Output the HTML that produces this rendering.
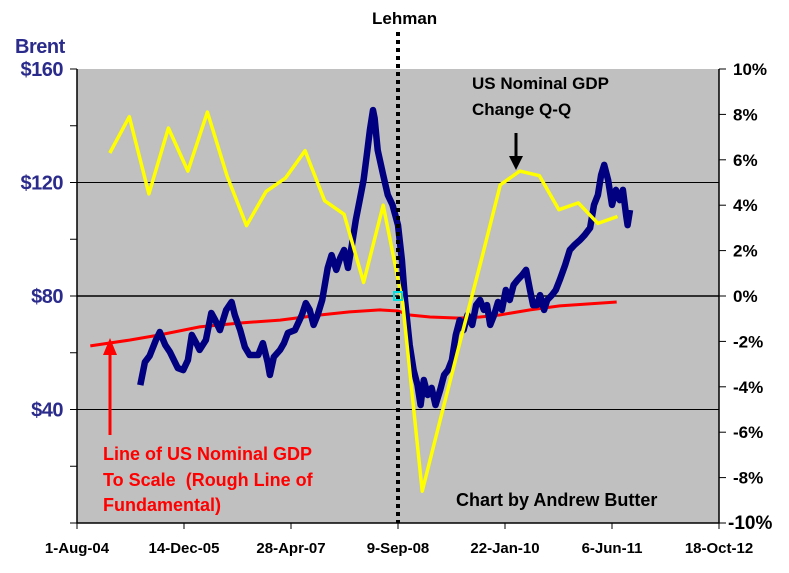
<!DOCTYPE html>
<html><head><meta charset="utf-8"><style>
body{margin:0;background:#fff;width:789px;height:573px;overflow:hidden}
svg{display:block;font-family:"Liberation Sans",Arial,sans-serif;font-weight:bold}
</style></head><body>
<svg id="chart" width="789" height="573" viewBox="0 0 789 573" xmlns="http://www.w3.org/2000/svg">
<rect x="77" y="69" width="642" height="454" fill="#c0c0c0"/>
<g id="grid"></g>
<g id="series"></g>
<g id="axes"></g>
<text x="15" y="53" font-size="20" fill="#2b2b8c" letter-spacing="-0.5">Brent</text>
<text x="372" y="24" font-size="17" fill="#000">Lehman</text>
<text x="472" y="89" font-size="17" fill="#000">US Nominal GDP</text>
<text x="472" y="115" font-size="17" fill="#000">Change Q-Q</text>
<line x1="516" y1="133" x2="516" y2="158" stroke="#000" stroke-width="3"/>
<polygon points="509,156 523,156 516,170" fill="#000"/>
<line x1="110" y1="435" x2="110" y2="352" stroke="#f00" stroke-width="3"/>
<polygon points="103,355 117,355 110,338" fill="#f00"/>
<text x="103" y="460" font-size="18" fill="#f00">Line of US Nominal GDP</text>
<text x="103" y="486" font-size="18" fill="#f00" xml:space="preserve">To Scale  (Rough Line of</text>
<text x="103" y="511" font-size="18" fill="#f00">Fundamental)</text>
<text x="456" y="506" font-size="18" fill="#000">Chart by Andrew Butter</text>
</svg>
<script>
const brentT=[2005.39,2005.45,2005.51,2005.59,2005.64,2005.71,2005.77,2005.87,2005.94,2006.00,2006.05,2006.12,2006.15,2006.23,2006.30,2006.35,2006.41,2006.49,2006.56,2006.60,2006.67,2006.73,2006.79,2006.90,2006.96,2007.02,2007.05,2007.10,2007.18,2007.23,2007.28,2007.37,2007.46,2007.51,2007.56,2007.61,2007.66,2007.72,2007.79,2007.84,2007.90,2007.95,2008.00,2008.05,2008.10,2008.15,2008.20,2008.25,2008.29,2008.33,2008.37,2008.39,2008.43,2008.50,2008.56,2008.62,2008.69,2008.74,2008.78,2008.84,2008.89,2008.94,2008.98,2009.02,2009.07,2009.12,2009.17,2009.23,2009.28,2009.33,2009.38,2009.43,2009.48,2009.53,2009.58,2009.64,2009.69,2009.74,2009.79,2009.83,2009.87,2009.92,2009.97,2010.02,2010.07,2010.12,2010.17,2010.22,2010.28,2010.33,2010.38,2010.42,2010.47,2010.51,2010.56,2010.60,2010.66,2010.71,2010.76,2010.83,2010.89,2010.95,2011.02,2011.08,2011.15,2011.20,2011.25,2011.29,2011.33,2011.38,2011.43,2011.48,2011.53,2011.57,2011.61,2011.63,2011.66];
const brentPrice=[48.6,56.7,58.9,64.5,67.3,62.7,60.3,54.6,53.9,57.4,66.3,62.7,61.0,64.5,74.0,71.5,68.0,75.1,77.9,73.3,68.0,62.0,59.2,59.2,63.4,56.7,52.2,58.5,61.0,63.4,67.0,68.0,73.3,77.5,75.1,69.8,73.3,78.6,89.9,94.4,89.2,93.4,96.2,89.9,98.0,106.8,113.8,120.9,129.7,138.5,145.5,142.7,131.4,122.6,115.6,112.1,105.0,92.7,78.6,62.7,53.9,48.6,41.6,50.4,45.1,47.6,41.6,46.9,52.2,53.9,57.4,66.3,71.5,68.0,73.3,69.8,76.8,78.6,75.1,76.8,69.8,73.3,77.9,75.1,82.1,78.6,83.9,85.6,87.4,89.2,82.1,76.8,76.8,80.3,75.1,78.6,80.3,82.1,85.6,90.9,96.2,98.0,99.7,101.5,104.0,112.1,115.6,122.6,126.2,120.9,112.1,117.4,113.8,117.4,108.5,105.0,110.3];
const gdpStart=2005.0;
const gdpChange=[6.3,7.9,4.5,7.4,5.5,8.1,5.3,3.1,4.6,5.2,6.4,4.2,3.6,0.6,4.0,-0.3,-8.6,-5.2,-1.8,1.5,4.9,5.5,5.3,3.8,4.1,3.2,3.5];
const fundT=[2004.75,2005.26,2005.64,2006.15,2006.67,2007.18,2007.69,2008.07,2008.46,2008.69,2008.84,2009.10,2009.48,2009.74,2009.99,2010.38,2010.76,2011.49];
const fundPrice=[62.4,64.5,66.3,69.1,70.5,71.5,73.3,74.4,75.1,74.7,73.3,72.6,72.2,72.6,73.3,75.1,76.5,77.9];
const leftTicks=[0,20,40,60,80,100,120,140,160];
const leftLabels=["","","$40","","$80","","$120","","$160"];
const rightTicks=[-10,-8,-6,-4,-2,0,2,4,6,8,10];
const xLabels=["1-Aug-04","14-Dec-05","28-Apr-07","9-Sep-08","22-Jan-10","6-Jun-11","18-Oct-12"];
const lehmanT=2008.69;

const X0=77,X1=719,Y0=523,Y1=69,T0=2004.58,T1=2012.80;
const xs=t=>X0+(t-T0)/(T1-T0)*(X1-X0);
const yL=p=>Y0-p/160*(Y0-Y1);
const yR=v=>Y0-(v+10)/20*(Y0-Y1);
const NS="http://www.w3.org/2000/svg";
function mk(tag,attrs,parent,txt){const e=document.createElementNS(NS,tag);for(const k in attrs)e.setAttribute(k,attrs[k]);if(txt!==undefined)e.textContent=txt;parent.appendChild(e);return e;}
const grid=document.getElementById('grid'),ser=document.getElementById('series'),ax=document.getElementById('axes');
[40,80,120].forEach(p=>{const l=mk('line',{x1:X0,x2:X1,y1:yL(p),y2:yL(p),stroke:'#000','stroke-width':p===80?1.5:1},grid);

});
let d=fundT.map((t,i)=>(i?'L':'M')+xs(t).toFixed(1)+','+yL(fundPrice[i]).toFixed(1)).join('');
let e=mk('path',{d:d,fill:'none',stroke:'#f00','stroke-width':3},ser);


d=brentT.map((t,i)=>(i?'L':'M')+xs(t).toFixed(1)+','+yL(brentPrice[i]).toFixed(1)).join('');
e=mk('path',{d:d,fill:'none',stroke:'#000080','stroke-width':6.5,'stroke-linejoin':'round'},ser);


d=gdpChange.map((v,i)=>(i?'L':'M')+xs(gdpStart+0.25*i).toFixed(1)+','+yR(v).toFixed(1)).join('');
e=mk('path',{d:d,fill:'none',stroke:'#ffff00','stroke-width':3.5,'stroke-linejoin':'round'},ser);


const lx=xs(lehmanT);
e=mk('line',{x1:lx,x2:lx,y1:32,y2:Y0,stroke:'#000','stroke-width':4,'stroke-dasharray':'4 4'},ser);


e=mk('rect',{x:lx-4,y:yR(0)-4,width:8,height:8,fill:'none',stroke:'#00e0e0','stroke-width':2},ser);


e=mk('path',{d:`M${X0},${Y1}V${Y0}H${X1}V${Y1}`,fill:'none',stroke:'#000','stroke-width':1.5},ax);


leftTicks.forEach((p,i)=>{const y=yL(p);mk('line',{x1:X0-7,x2:X0,y1:y,y2:y,stroke:'#000'},ax);
if(leftLabels[i]){const t=mk('text',{x:63,y:y+7,'text-anchor':'end','font-size':20,fill:'#2b2b8c','letter-spacing':'-0.5'},ax,leftLabels[i]);

}});
rightTicks.forEach(v=>{const y=yR(v);mk('line',{x1:X1,x2:X1+7,y1:y,y2:y,stroke:'#000'},ax);
const t=mk('text',{x:v===-10?728:733,y:y+6,'font-size':v===-10?19:17,fill:'#000'},ax,v+'%');

});
xLabels.forEach((s,i)=>{const x=X0+i*(X1-X0)/6;mk('line',{x1:x,x2:x,y1:Y0,y2:Y0+6,stroke:'#000'},ax);
const t=mk('text',{x:x,y:553,'text-anchor':'middle','font-size':15,fill:'#000'},ax,s);

});
</script>
</body></html>
